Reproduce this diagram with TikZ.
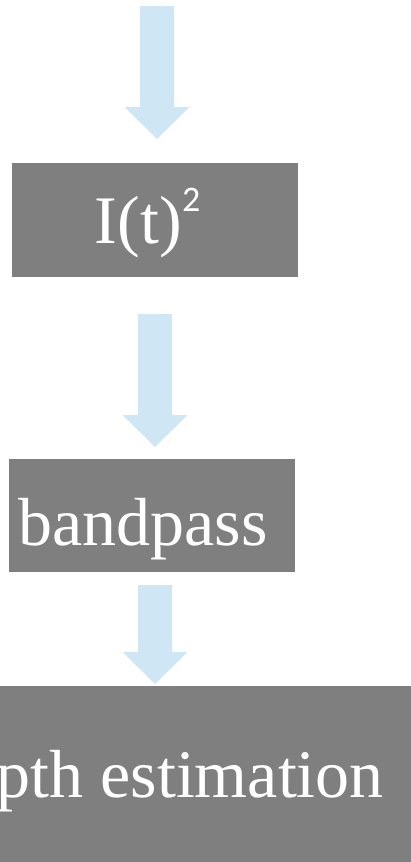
\documentclass[tikz,border=0pt]{standalone}
\usepackage{fontspec}
\setmainfont{Liberation Serif}
\newfontfamily\expfont{Carlito}
\usetikzlibrary{calc}
\definecolor{boxgray}{RGB}{127,127,127}
\definecolor{flowblue}{RGB}{207,231,245}
\tikzset{
  stagebox/.style={fill=boxgray, draw=none, inner sep=0pt, outer sep=0pt},
  stagetext/.style={text=white, inner sep=0pt, font=\fontsize{68}{80}\selectfont},
  flowarrow/.style={fill=flowblue, draw=none}
}
% block arrow pointing down from #1 (top centre) to #2 (tip), head length 32
\newcommand\blockdown[2]{%
  \fill[flowarrow] ($(#1)+(-17,0)$) -- ($(#1)+(17,0)$) -- ($(#2)+(17,-32)$)
    -- ($(#2)+(32.5,-32)$) -- (#2) -- ($(#2)+(-32.5,-32)$) -- ($(#2)+(-17,-32)$) -- cycle;}
\begin{document}
\begin{tikzpicture}[x=1pt,y=-1pt]
\useasboundingbox (0,0) rectangle (411,862);
\clip (0,0) rectangle (411,862);

% processing stages
\node[stagebox, minimum width=286pt, minimum height=114pt] (square) at (155,220) {};
\node[stagetext, anchor=base east] (squaretext) at (182,243) {I(t)};
\node[text=white, inner sep=0pt, anchor=base west, font=\expfont\fontsize{36}{36}\selectfont]
  (squareexp) at (squaretext.base east) [yshift=32pt, xshift=0pt] {2};

\node[stagebox, minimum width=286pt, minimum height=113pt] (bandpass) at (152,515.5) {};
\node[stagetext, anchor=base] (bandpasstext) at (143,545) {bandpass};

\node[stagebox, minimum width=520pt, minimum height=220pt, anchor=north] (depth) at (180,686) {};
\node[stagetext, anchor=base east] (depthtext) at (384,797) {depth estimation};

% flow arrows
\coordinate (in top) at (157,6);
\coordinate (in tip) at (157,139);
\blockdown{in top}{in tip}

\coordinate (a top) at (155,314);
\coordinate (a tip) at (155,447);
\blockdown{a top}{a tip}

\coordinate (b top) at (155,585);
\coordinate (b tip) at (155,684);
\blockdown{b top}{b tip}
\end{tikzpicture}
\end{document}
